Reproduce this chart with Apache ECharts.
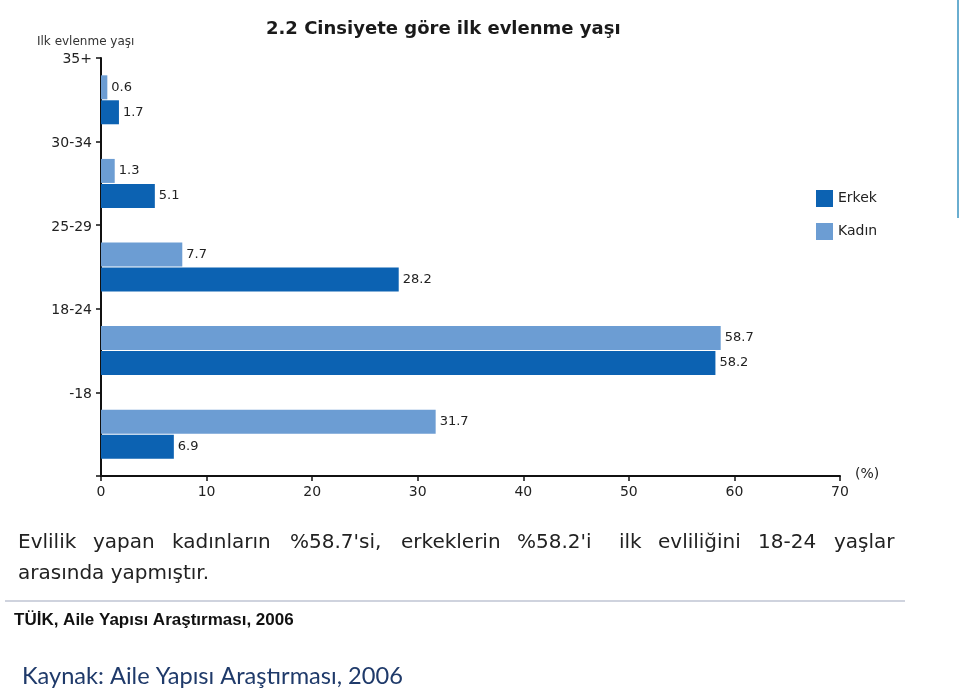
<!DOCTYPE html>
<html>
<head>
<meta charset="utf-8">
<script src="https://cdn.jsdelivr.net/npm/echarts@6/dist/echarts.min.js"></script>
<style>
html,body{margin:0;padding:0;background:#fff;}
#main{width:960px;height:694px;}
</style>
</head>
<body>
<div id="main"></div>
<script>
const categories = ['35+', '30-34', '25-29', '18-24', '-18'];
const erkek = [1.7, 5.1, 28.2, 58.2, 6.9];
const kadin = [0.6, 1.3, 7.7, 58.7, 31.7];
const xTicks = [0, 10, 20, 30, 40, 50, 60, 70];
const seriesNames = ['Erkek', 'Kadın'];
const titleText = '2.2 Cinsiyete göre ilk evlenme yaşı';
const yAxisTitle = 'Ilk evlenme yaşı';
const unitText = '(%)';
const noteWords = ['Evlilik', 'yapan', 'kadınların', "%58.7'si,", 'erkeklerin', "%58.2'i", 'ilk', 'evliliğini', '18-24', 'yaşlar'];
const noteLine2 = 'arasında yapmıştır.';
const sourceBold = 'TÜİK, Aile Yapısı Araştırması, 2006';
const sourceText = 'Kaynak: Aile Yapısı Araştırması, 2006';

const chart = echarts.init(document.getElementById('main'), null, {renderer: 'canvas'});
const font = 'DejaVu Sans';
const darkBlue = '#0c62b2';
const lightBlue = '#6c9dd3';

// justified first line word positions (layout only)
const wordX = [18, 93, 172, 290, 401, 517, 619, 658, 758, 834];
const noteGraphics = noteWords.map((w, i) => ({
  type: 'text', left: wordX[i], top: 533,
  style: {text: w, font: '20px "DejaVu Sans"', fill: '#222'}
}));

chart.setOption({
  backgroundColor: '#fff',
  animation: false,
  title: {
    text: titleText, left: 261, top: 15,
    textStyle: {fontFamily: font, fontSize: 18, fontWeight: 'bold', color: '#1a1a1a'}
  },
  legend: {
    data: seriesNames, orient: 'vertical', left: 811, top: 185,
    itemWidth: 17, itemHeight: 17, itemGap: 16,
    icon: 'rect',
    textStyle: {fontFamily: font, fontSize: 14, color: '#222'}
  },
  grid: {left: 101, right: 120, top: 58, bottom: 218, containLabel: false},
  xAxis: {
    type: 'value', min: 0, max: 70, interval: 10,
    axisLine: {show: true, lineStyle: {color: '#111', width: 2}},
    axisTick: {show: true, length: 5, lineStyle: {color: '#111', width: 1.5}},
    axisLabel: {fontFamily: font, fontSize: 14, color: '#222', margin: 9,
      formatter: v => xTicks.includes(v) ? String(v) : ''},
    splitLine: {show: false}
  },
  yAxis: {
    type: 'category', data: categories, inverse: true,
    axisLine: {show: true, lineStyle: {color: '#111', width: 2}},
    axisTick: {show: true, length: 5, interval: 0, lineStyle: {color: '#111', width: 1.5}},
    axisLabel: {
      margin: 9, interval: 0, hideOverlap: false,
      showMinLabel: true, showMaxLabel: true,
      formatter: v => '{a|' + v + '}\n{b| }',
      rich: {
        a: {fontFamily: font, fontSize: 14, color: '#222', height: 16, lineHeight: 16},
        b: {fontSize: 2, height: 80, lineHeight: 80}
      }
    }
  },
  series: [
    {
      name: 'Kadın', type: 'bar', data: kadin, barWidth: 24, barGap: '4%',
      itemStyle: {color: lightBlue},
      label: {show: true, position: 'right', distance: 4, fontFamily: font, fontSize: 13, color: '#222'}
    },
    {
      name: 'Erkek', type: 'bar', data: erkek, barWidth: 24, barGap: '4%',
      itemStyle: {color: darkBlue},
      label: {show: true, position: 'right', distance: 4, fontFamily: font, fontSize: 13, color: '#222'}
    }
  ],
  graphic: [
    {type: 'text', left: 37, top: 36, style: {text: yAxisTitle, font: '12px "DejaVu Sans"', fill: '#333'}},
    {type: 'text', left: 855, top: 467, style: {text: unitText, font: '14px "DejaVu Sans"', fill: '#222'}},
    ...noteGraphics,
    {type: 'text', left: 18, top: 564, style: {text: noteLine2, font: '20px "DejaVu Sans"', fill: '#222'}},
    {type: 'rect', shape: {x: 5, y: 600, width: 900, height: 2}, style: {fill: '#cfd3de'}},
    {type: 'text', left: 14, top: 612, style: {text: sourceBold, font: 'bold 17px "Liberation Sans"', fill: '#111'}},
    {type: 'text', left: 22, top: 664, style: {text: sourceText, font: '23.6px Lato', fill: '#1f3a6a'}},
    {type: 'rect', shape: {x: 957, y: 0, width: 2, height: 218}, style: {fill: '#6aaed0'}}
  ]
});
</script>
</body>
</html>
